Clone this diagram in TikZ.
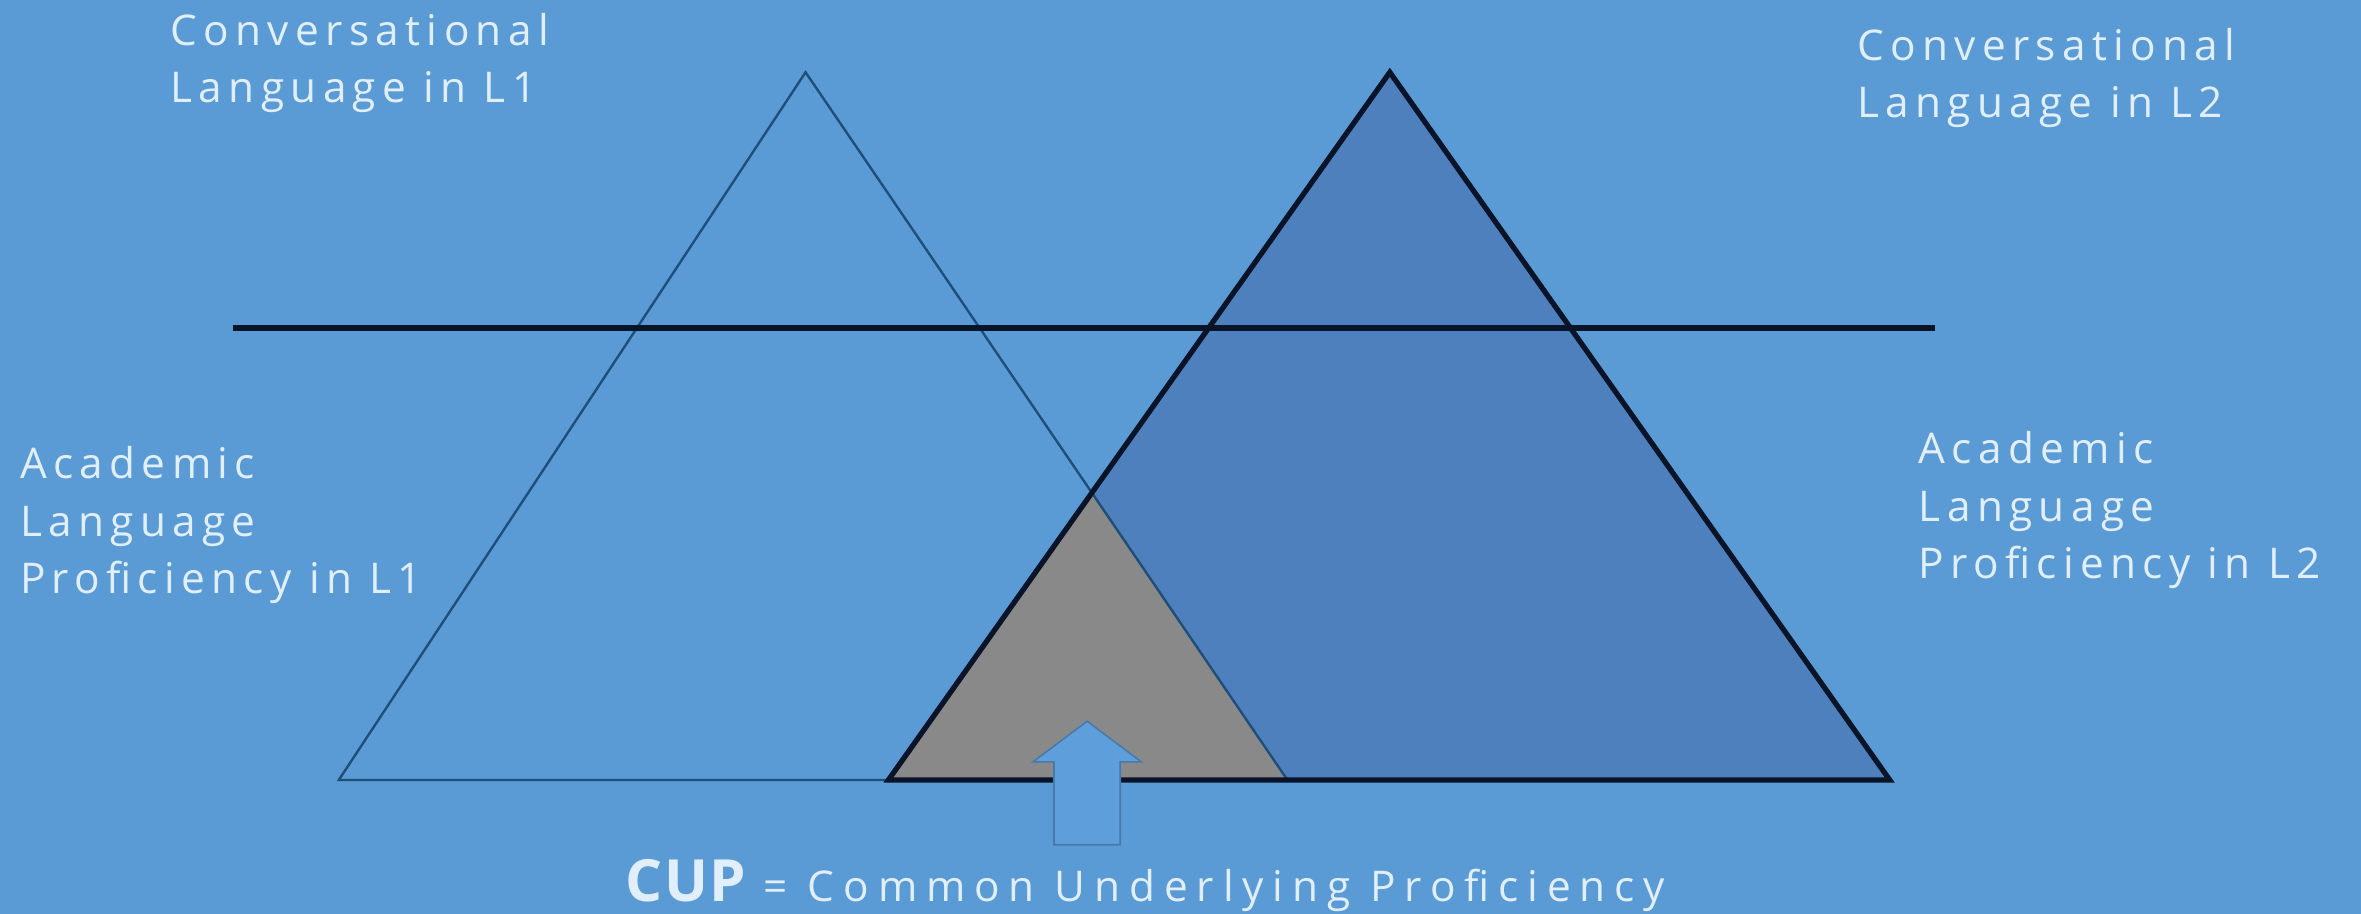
\documentclass[tikz,border=0pt]{standalone}
\usepackage{fontspec}
\usepackage{xcolor}
\usepackage{tikz}
\newfontfamily\labelfont{Open Sans}[LetterSpace=15]
\definecolor{bgblue}{RGB}{91,155,213}
\definecolor{darkfill}{RGB}{78,128,190}
\definecolor{cupgray}{RGB}{137,137,137}
\definecolor{edgeblue}{RGB}{31,78,121}
\definecolor{edgenavy}{RGB}{10,20,40}
\definecolor{labeltext}{RGB}{225,239,252}
\definecolor{arrowline}{RGB}{70,122,172}
\definecolor{arrowfill}{RGB}{94,158,218}

\begin{document}
\begin{tikzpicture}[
      x=0.02cm, y=-0.02cm,
      lbl/.style = {anchor=base west, inner sep=0pt, align=left,
                    text=labeltext, font=\labelfont\fontsize{16}{21.6}\selectfont},
      thinedge/.style  = {draw=edgeblue, line width=0.9pt},
      thickedge/.style = {draw=edgenavy, line width=2pt},
    ]
    \fill[bgblue] (0,0) rectangle (1568,607);
    \useasboundingbox (0,0) rectangle (1568,607);

    \coordinate (L1top)   at (535,48);
    \coordinate (L1left)  at (225,518);
    \coordinate (L1right) at (855,518);
    \coordinate (L2top)   at (923,48);
    \coordinate (L2left)  at (590,518);
    \coordinate (L2right) at (1255,518);
    \coordinate (CUPtop)  at (intersection of L1top--L1right and L2top--L2left);

    % triangles
    \fill[darkfill] (L2top) -- (L2left) -- (L2right) -- cycle;
    \fill[cupgray] (CUPtop) -- (L2left) -- (L1right) -- cycle;
    \draw[thinedge] (L1top) -- (L1left) -- (L1right) -- cycle;
    \draw[thickedge] (L2top) -- (L2left) -- (L2right) -- cycle;

    % threshold line
    \coordinate (lineW) at (155,218);
    \coordinate (lineE) at (1285,218);
    \draw[edgenavy, line width=2.2pt] (lineW) -- (lineE);

    % arrow into the shared part
    \draw[arrowline, fill=arrowfill, line width=0.6pt]
      (700,561) -- (700,506) -- (686,506) -- (722,479)
      -- (758,506) -- (744,506) -- (744,561) -- cycle;

    % labels (anchored at the baseline of their last line)
    \node[lbl] (convA) at (113,68)   {Conversational\\Language in L1};
    \node[lbl] (convB) at (1233,78)  {Conversational\\Language in L2};
    \node[lbl] (acadA) at (13,394)   {Academic\\Language\\Proficiency in L1};
    \node[lbl] (acadB) at (1274,384) {Academic\\Language\\Proficiency in L2};
    \node[lbl] (cup)   at (415,599)
      {{\fontsize{22}{24}\selectfont\addfontfeature{LetterSpace=3}\bfseries CUP}
       \addfontfeature{LetterSpace=21}= Common Underlying Proficiency};
  \end{tikzpicture}
\end{document}
